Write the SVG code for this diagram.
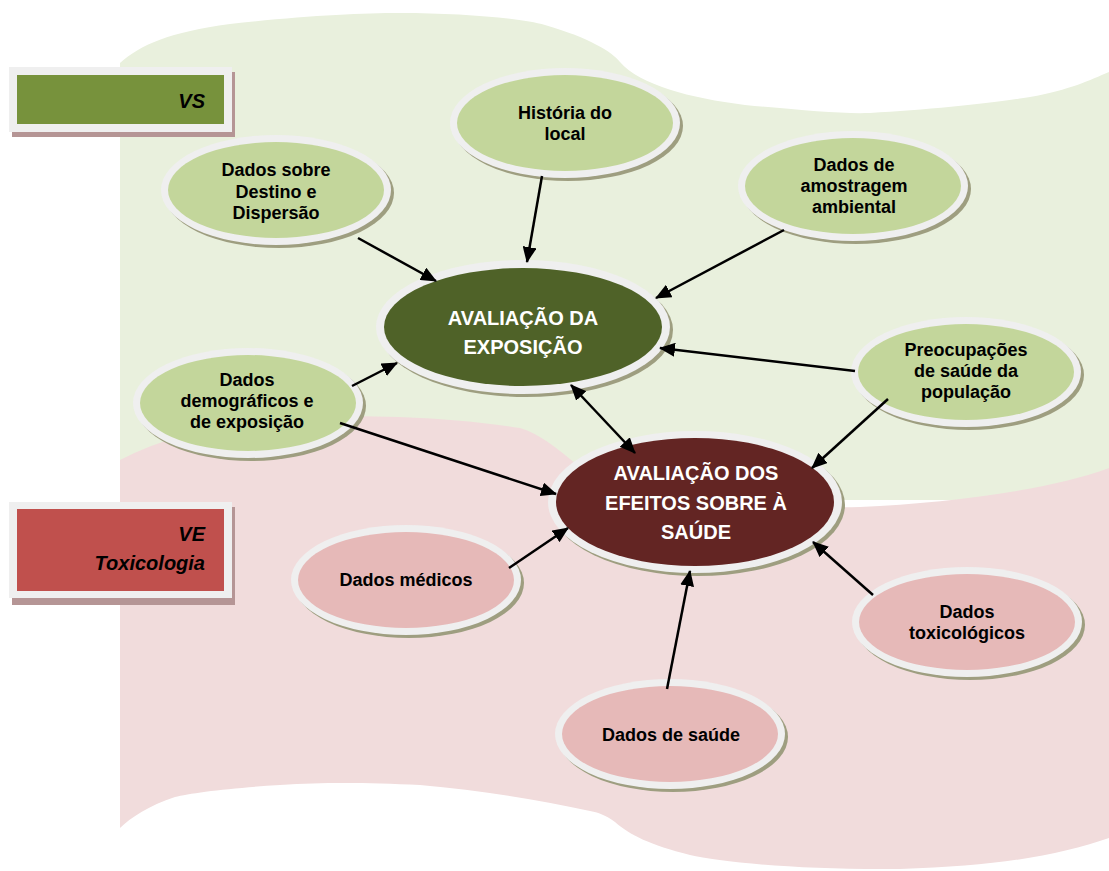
<svg xmlns="http://www.w3.org/2000/svg" width="1109" height="871" viewBox="0 0 1109 871">
<style>
.t{font-family:"Liberation Sans",Arial,sans-serif;font-weight:bold;font-size:18px;fill:#000;text-anchor:middle}
.tc{font-family:"Liberation Sans",Arial,sans-serif;font-weight:bold;font-size:20px;fill:#fff;text-anchor:middle}
.tb{font-family:"Liberation Sans",Arial,sans-serif;font-weight:bold;font-style:italic;font-size:20px;fill:#000;text-anchor:end}
.sh{fill:#9E9E80}
.ring{fill:#EFEFEF}
.g{fill:#C3D69B}
.p{fill:#E6B9B8}
.cn line{stroke:#000;stroke-width:2.5}
</style>
<defs>
<marker id="ah" markerUnits="userSpaceOnUse" markerWidth="16" markerHeight="14" refX="15" refY="7" orient="auto-start-reverse">
<path d="M0,0 L16,7 L0,14 Z" fill="#000"/>
</marker>
</defs>
<rect width="1109" height="871" fill="#fff"/>
<path d="M120,63 C140,45 170,32 230,24 C300,16 360,13 400,13 C460,13 520,18 545,25 C590,38 612,52 620,62 C640,85 690,98 745,105 C800,110 840,114 870,113 C930,110 1000,102 1030,97 C1070,90 1090,80 1109,72 L1109,500 L120,500 Z" fill="#E9F0DD"/>
<path d="M120,460 C170,435 230,420 300,417 C400,414 470,420 520,428 C560,440 580,480 640,500 C700,510 800,508 860,507 C950,503 1050,490 1109,468 L1109,838 C1060,855 1000,866 900,869 C800,870 720,862 690,855 C650,845 630,835 615,822 C605,815 600,813 590,811 C540,800 480,790 420,785 C370,783 330,782 280,785 C230,788 190,793 175,797 C150,805 130,818 120,828 Z" fill="#F1DCDC"/>

<g id="box-vs">
<rect x="12" y="72" width="223" height="65" fill="#B59595"/>
<rect x="9" y="67" width="223" height="65" fill="#EFEFEF"/>
<rect x="17" y="75" width="207" height="49" fill="#77923C"/>
<text class="tb" x="205" y="108">VS</text>
</g>
<g id="box-ve">
<rect x="12" y="507" width="223" height="98" fill="#B59595"/>
<rect x="9" y="502" width="223" height="96" fill="#EFEFEF"/>
<rect x="17" y="509" width="207" height="82" fill="#C0504D"/>
<text class="tb" x="205" y="541">VE</text>
<text class="tb" x="205" y="570">Toxicologia</text>
</g>

<g id="n-exposicao">
<ellipse class="sh" cx="526" cy="330" rx="147" ry="67"/>
<ellipse class="ring" cx="523" cy="327" rx="147" ry="67"/>
<ellipse cx="523" cy="327" rx="139" ry="59" fill="#4F6228"/>
<text class="tc" x="523" y="325">AVALIAÇÃO DA</text>
<text class="tc" x="523" y="354">EXPOSIÇÃO</text>
</g>
<g id="n-efeitos">
<ellipse class="sh" cx="698" cy="505" rx="147" ry="71"/>
<ellipse class="ring" cx="695" cy="502" rx="147" ry="71"/>
<ellipse cx="695" cy="502" rx="139" ry="64" fill="#632523"/>
<text class="tc" x="696" y="480">AVALIAÇÃO DOS</text>
<text class="tc" x="696" y="510">EFEITOS SOBRE À</text>
<text class="tc" x="696" y="539">SAÚDE</text>
</g>

<g id="n-destino">
<ellipse class="sh" cx="279" cy="193" rx="115" ry="55"/>
<ellipse class="ring" cx="276" cy="190" rx="115" ry="55"/>
<ellipse class="g" cx="276" cy="190" rx="108" ry="48"/>
<text class="t" x="276" y="176">Dados sobre</text>
<text class="t" x="276" y="198">Destino e</text>
<text class="t" x="276" y="219">Dispersão</text>
</g>
<g id="n-historia">
<ellipse class="sh" cx="568" cy="126" rx="115" ry="55"/>
<ellipse class="ring" cx="565" cy="123" rx="115" ry="55"/>
<ellipse class="g" cx="565" cy="123" rx="108" ry="48"/>
<text class="t" x="565" y="119">História do</text>
<text class="t" x="565" y="140">local</text>
</g>
<g id="n-amostragem">
<ellipse class="sh" cx="856" cy="189" rx="115" ry="55"/>
<ellipse class="ring" cx="853" cy="186" rx="115" ry="55"/>
<ellipse class="g" cx="853" cy="186" rx="108" ry="48"/>
<text class="t" x="854" y="171">Dados de</text>
<text class="t" x="854" y="192">amostragem</text>
<text class="t" x="854" y="213">ambiental</text>
</g>
<g id="n-preocupacoes">
<ellipse class="sh" cx="969" cy="375" rx="115" ry="55"/>
<ellipse class="ring" cx="966" cy="372" rx="115" ry="55"/>
<ellipse class="g" cx="966" cy="372" rx="108" ry="48"/>
<text class="t" x="966" y="356">Preocupações</text>
<text class="t" x="966" y="377">de saúde da</text>
<text class="t" x="966" y="398">população</text>
</g>
<g id="n-demograficos">
<ellipse class="sh" cx="251" cy="406" rx="115" ry="55"/>
<ellipse class="ring" cx="248" cy="403" rx="115" ry="55"/>
<ellipse class="g" cx="248" cy="403" rx="108" ry="48"/>
<text class="t" x="247" y="386">Dados</text>
<text class="t" x="247" y="407">demográficos e</text>
<text class="t" x="247" y="428">de exposição</text>
</g>
<g id="n-medicos">
<ellipse class="sh" cx="409" cy="583" rx="115" ry="55"/>
<ellipse class="ring" cx="406" cy="580" rx="115" ry="55"/>
<ellipse class="p" cx="406" cy="580" rx="108" ry="48"/>
<text class="t" x="406" y="586">Dados médicos</text>
</g>
<g id="n-toxicologicos">
<ellipse class="sh" cx="970" cy="625" rx="115" ry="55"/>
<ellipse class="ring" cx="967" cy="622" rx="115" ry="55"/>
<ellipse class="p" cx="967" cy="622" rx="108" ry="48"/>
<text class="t" x="967" y="618">Dados</text>
<text class="t" x="967" y="639">toxicológicos</text>
</g>
<g id="n-saude">
<ellipse class="sh" cx="673" cy="737" rx="115" ry="55"/>
<ellipse class="ring" cx="670" cy="734" rx="115" ry="55"/>
<ellipse class="p" cx="670" cy="734" rx="108" ry="48"/>
<text class="t" x="671" y="741">Dados de saúde</text>
</g>

<g id="connectors" class="cn">
<line x1="358" y1="238" x2="436" y2="281" marker-end="url(#ah)"/>
<line x1="542" y1="176" x2="527" y2="262" marker-end="url(#ah)"/>
<line x1="784" y1="230" x2="656" y2="298" marker-end="url(#ah)"/>
<line x1="855" y1="371" x2="660" y2="348" marker-end="url(#ah)"/>
<line x1="352" y1="386" x2="397" y2="363" marker-end="url(#ah)"/>
<line x1="571" y1="385" x2="635" y2="453" marker-start="url(#ah)" marker-end="url(#ah)"/>
<line x1="340" y1="423" x2="556" y2="494" marker-end="url(#ah)"/>
<line x1="888" y1="399" x2="812" y2="468" marker-end="url(#ah)"/>
<line x1="509" y1="568" x2="568" y2="528" marker-end="url(#ah)"/>
<line x1="873" y1="595" x2="813" y2="542" marker-end="url(#ah)"/>
<line x1="667" y1="689" x2="690" y2="571" marker-end="url(#ah)"/>
</g>
</svg>
